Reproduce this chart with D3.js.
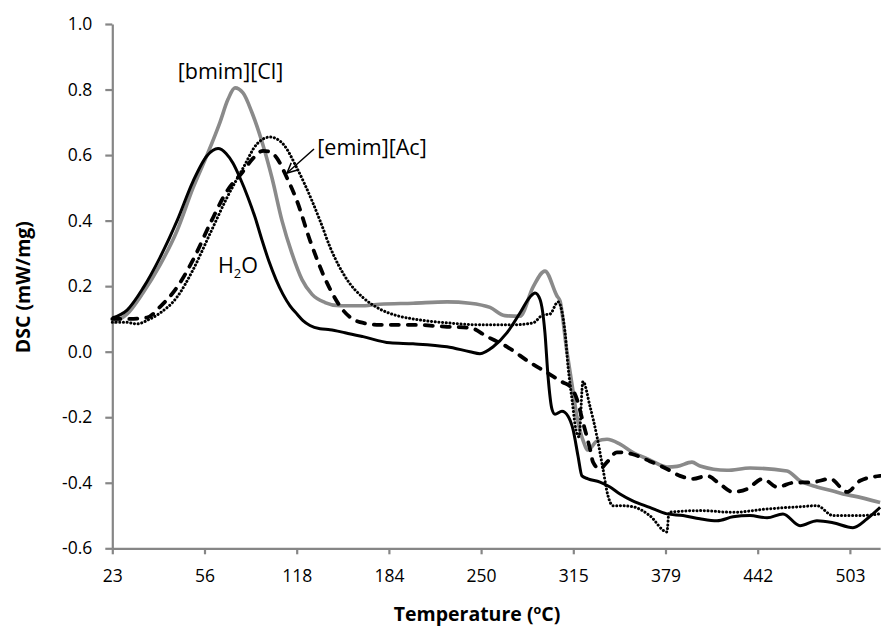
<!DOCTYPE html>
<html>
<head>
<meta charset="utf-8">
<script src="https://cdn.jsdelivr.net/npm/d3@7"></script>
<style>
  html, body { margin: 0; padding: 0; background: #fff; }
  svg { display: block; }
  text { font-family: "Open Sans", "Noto Sans", sans-serif; fill: #000; }
</style>
</head>
<body>
<svg id="chart" width="881" height="630"></svg>
<script>
// ---- data ----
const tempTicks = [23, 56, 118, 184, 250, 315, 379, 442, 503];
const tempEnd = 523;
const yTicks = [-0.6, -0.4, -0.2, 0.0, 0.2, 0.4, 0.6, 0.8, 1.0];

const bmimT = [23,28.3,34,40.1,46.2,51.9,57.7,66.4,71.8,76.5,81.9,87.9,94.7,101.4,108.1,114.8,121.8,129,138.3,149,163.3,177.6,201.3,225.6,242,256.3,266.8,277.4,286.6,295,303.5,305.6,310.5,314.1,317.6,321.7,325.2,331.4,338.4,347.4,356.2,368,380,386.9,397.1,402.6,421,436.8,461.4,470,481.2,491.8,498.4,505,523];
const bmimV = [0.088,0.115,0.18,0.265,0.37,0.50,0.60,0.70,0.77,0.805,0.79,0.73,0.64,0.53,0.40,0.30,0.22,0.175,0.15,0.14,0.14,0.145,0.148,0.152,0.148,0.135,0.11,0.108,0.197,0.246,0.17,0.155,0.0,-0.1,-0.2,-0.27,-0.3,-0.273,-0.267,-0.282,-0.307,-0.33,-0.352,-0.35,-0.337,-0.349,-0.362,-0.355,-0.364,-0.394,-0.413,-0.425,-0.434,-0.44,-0.46];

const waterT = [23,28.3,34,40.1,46.2,51.9,57.7,65.1,70.5,75.2,79.9,85.3,90,94.7,99.4,104.1,108.8,113.5,118.2,122.5,127.5,134.7,141.8,152.6,165.5,184.8,201.3,225.6,242,249.2,258.5,268.3,277.4,284.5,288,291.5,295,297.2,300,302.1,307,311.3,314.8,318.3,321,325.2,333.5,340.5,347.4,356.2,368,380,391,402.6,414.2,425.1,436.7,448.2,458.7,470,481.2,491.8,505,514.4,523];
const waterV = [0.103,0.127,0.194,0.288,0.40,0.52,0.598,0.62,0.605,0.575,0.53,0.47,0.41,0.34,0.275,0.22,0.175,0.14,0.115,0.095,0.08,0.07,0.067,0.058,0.046,0.027,0.024,0.015,0.0,-0.006,0.015,0.058,0.118,0.167,0.179,0.16,0.058,-0.076,-0.176,-0.191,-0.182,-0.197,-0.237,-0.319,-0.379,-0.388,-0.398,-0.413,-0.434,-0.455,-0.475,-0.495,-0.5,-0.51,-0.516,-0.504,-0.5,-0.507,-0.495,-0.531,-0.516,-0.522,-0.537,-0.51,-0.475];

const emimT = [23,29.3,35.4,40.1,46.2,51.9,59.7,71.1,81.9,88.6,95.4,100.1,104.8,111.5,118.2,127.5,139.7,151.1,163.3,177.6,201.3,225.6,242,254.2,268.3,284.5,296.5,307.8,312.7,317.6,321.7,326.6,328.7,333.5,338.4,345.3,356.2,368,380,388.9,397.8,407.4,416.2,425.1,434.7,445.5,454.8,465.4,478.6,489.9,501.1,509.7,523];
const emimV = [0.1,0.1,0.104,0.137,0.197,0.28,0.39,0.49,0.55,0.59,0.613,0.61,0.59,0.53,0.46,0.34,0.21,0.127,0.09,0.082,0.082,0.076,0.073,0.046,0.015,-0.033,-0.064,-0.094,-0.106,-0.146,-0.215,-0.297,-0.337,-0.358,-0.337,-0.307,-0.313,-0.334,-0.358,-0.379,-0.388,-0.379,-0.404,-0.428,-0.419,-0.388,-0.413,-0.4,-0.398,-0.388,-0.428,-0.394,-0.379];

const dotT = [23,27.5,31.8,36.5,40.1,46.2,51.9,59.7,71.1,81.9,91.3,100.1,108.8,118.2,129,134.7,141.8,154,165.5,177.6,189.8,201.3,225.6,249.2,272.5,286.6,293.6,298.6,304.2,309.2,311.3,314.1,316.9,319,321.7,326.6,331.4,335.6,339.1,342.5,347.4,356.2,368,380,381.4,402.6,425.1,448.2,470,481.2,491.8,509.7,523];
const dotV = [0.09,0.09,0.085,0.1,0.118,0.167,0.25,0.36,0.47,0.56,0.634,0.655,0.634,0.56,0.46,0.40,0.32,0.22,0.165,0.13,0.11,0.1,0.088,0.082,0.082,0.088,0.112,0.115,0.152,0.058,-0.046,-0.146,-0.24,-0.26,-0.091,-0.167,-0.258,-0.358,-0.44,-0.47,-0.47,-0.473,-0.5,-0.55,-0.49,-0.485,-0.49,-0.48,-0.473,-0.47,-0.5,-0.5,-0.495];

// ---- layout ----
const svg = d3.select("#chart");
const plotLeft = 112.3, plotTop = 24, plotBottom = 548.3;
const step = 92.2;
const xDomain = tempTicks.concat([tempEnd]);
const xRange = tempTicks.map((t, i) => plotLeft + i * step)
  .concat([plotLeft + 8 * step + (tempEnd - 503) / (503 - 442) * step]);
const x = d3.scaleLinear().domain(xDomain).range(xRange);
const y = d3.scaleLinear().domain([-0.6, 1.0]).range([plotBottom, plotTop]);

const axisColor = "#868686";

// x axis
const gx = svg.append("g").attr("transform", `translate(0,${plotBottom})`)
  .call(d3.axisBottom(x).tickValues(tempTicks).tickSize(6).tickSizeOuter(0).tickPadding(15).tickFormat(d => String(d)));
gx.select(".domain").attr("stroke", axisColor).attr("stroke-width", 2.2);
gx.selectAll(".tick line").attr("stroke", axisColor).attr("stroke-width", 2.2);
gx.selectAll(".tick text").attr("font-size", 17.5).attr("font-family", "Open Sans").attr("fill", "#000");

// y axis
const gy = svg.append("g").attr("transform", `translate(${plotLeft},0)`)
  .call(d3.axisLeft(y).tickValues(yTicks).tickSize(7).tickSizeOuter(0).tickPadding(13).tickFormat(d => d.toFixed(1)));
gy.select(".domain").attr("stroke", axisColor).attr("stroke-width", 2.2);
gy.selectAll(".tick line").attr("stroke", axisColor).attr("stroke-width", 2.2);
gy.selectAll(".tick text").attr("font-size", 17.5).attr("font-family", "Open Sans").attr("fill", "#000");

// axis titles
svg.append("text")
  .attr("transform", `translate(30,${(plotTop + plotBottom) / 2 + 1}) rotate(-90)`)
  .attr("text-anchor", "middle").attr("font-weight", "bold").attr("font-size", 19.5)
  .text("DSC (mW/mg)");
const xt = svg.append("text").attr("x", 477).attr("y", 621)
  .attr("text-anchor", "middle").attr("font-weight", "bold").attr("font-size", 19.5);
xt.append("tspan").text("Temperature (");
xt.append("tspan").attr("dy", -7).attr("font-size", 12.5).text("o");
xt.append("tspan").attr("dy", 7).text("C)");

// ---- series ----
const line = d3.line().x(d => x(d[0])).y(d => y(d[1])).curve(d3.curveMonotoneX);
const zipS = (T, V) => T.map((t, i) => [t, V[i]]);

svg.append("path").datum(zipS(bmimT, bmimV)).attr("d", line)
  .attr("fill", "none").attr("stroke", "#8a8a8a").attr("stroke-width", 3.6).attr("stroke-linejoin", "round");
svg.append("path").datum(zipS(dotT, dotV)).attr("d", line)
  .attr("fill", "none").attr("stroke", "#000").attr("stroke-width", 3)
  .attr("stroke-dasharray", "0.1 3.6").attr("stroke-linecap", "round");
svg.append("path").datum(zipS(emimT, emimV)).attr("d", line)
  .attr("fill", "none").attr("stroke", "#000").attr("stroke-width", 3.8)
  .attr("stroke-dasharray", "8 9").attr("stroke-linecap", "round");
svg.append("path").datum(zipS(waterT, waterV)).attr("d", line)
  .attr("fill", "none").attr("stroke", "#000").attr("stroke-width", 3).attr("stroke-linejoin", "round");

// ---- annotations ----
svg.append("text").attr("x", 230.5).attr("y", 79).attr("text-anchor", "middle")
  .attr("font-size", 21.5).text("[bmim][Cl]");
svg.append("text").attr("x", 372).attr("y", 155).attr("text-anchor", "middle")
  .attr("font-size", 21.5).text("[emim][Ac]");
const h2o = svg.append("text").attr("x", 218).attr("y", 273).attr("font-size", 21.5);
h2o.append("tspan").text("H");
h2o.append("tspan").attr("dy", 5).attr("font-size", 13).text("2");
h2o.append("tspan").attr("dy", -5).text("O");

// arrow to [emim][Ac]
const ax0 = 314, ay0 = 149, ax1 = 287, ay1 = 173;
svg.append("line").attr("x1", ax0).attr("y1", ay0).attr("x2", ax1).attr("y2", ay1)
  .attr("stroke", "#000").attr("stroke-width", 1.5);
const ang = Math.atan2(ay0 - ay1, ax0 - ax1);
const hl = 11, ha = 0.45;
svg.append("path")
  .attr("d", `M${ax1 + hl * Math.cos(ang + ha)},${ay1 + hl * Math.sin(ang + ha)} L${ax1},${ay1} L${ax1 + hl * Math.cos(ang - ha)},${ay1 + hl * Math.sin(ang - ha)}`)
  .attr("fill", "none").attr("stroke", "#000").attr("stroke-width", 1.5);
</script>
</body>
</html>
